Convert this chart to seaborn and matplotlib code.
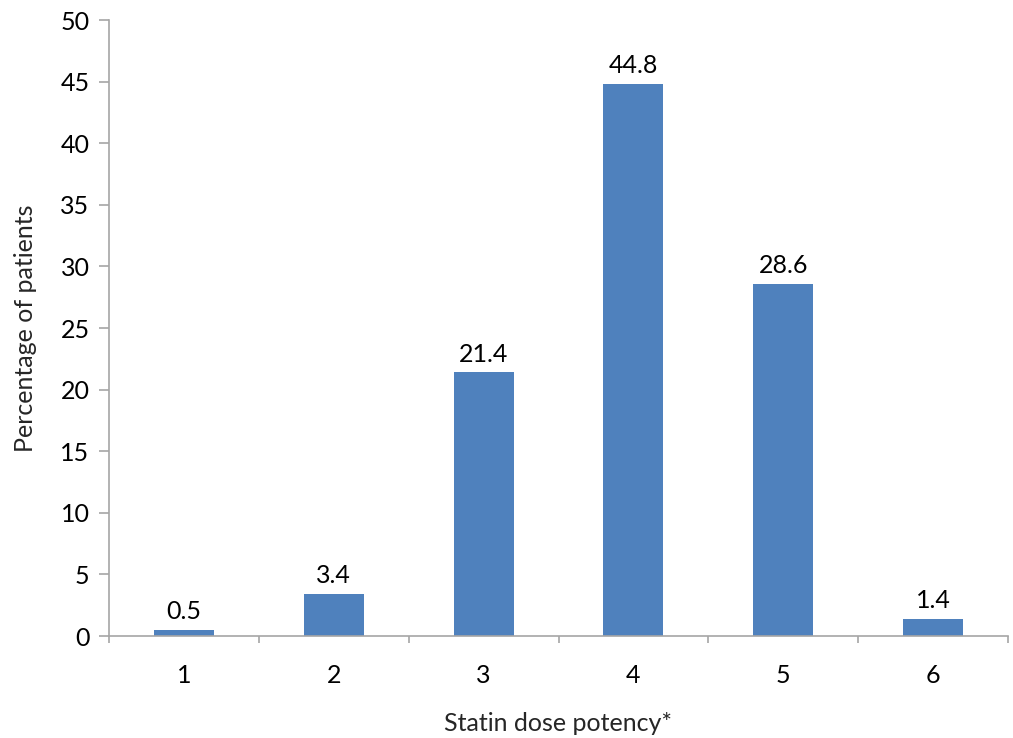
import matplotlib
matplotlib.use("Agg")
import matplotlib.pyplot as plt
import seaborn as sns
import pandas as pd

categories = ["1", "2", "3", "4", "5", "6"]
percentages = [0.5, 3.4, 21.4, 44.8, 28.6, 1.4]
y_ticks = [0, 5, 10, 15, 20, 25, 30, 35, 40, 45, 50]

sns.set_theme(style="white")
plt.rcParams["font.family"] = ["Lato", "DejaVu Sans"]

df = pd.DataFrame({"potency": categories, "pct": percentages})

fig = plt.figure(figsize=(10.13, 7.38), dpi=100)
ax = fig.add_axes([109 / 1013, 1 - 636 / 738, 899 / 1013, 616 / 738])

sns.barplot(data=df, x="potency", y="pct", color="#4F81BD", width=0.4,
            saturation=1, linewidth=0, ax=ax)

fs = 18
for i, v in enumerate(percentages):
    ax.text(i, v + 0.55, f"{v}", ha="center", va="bottom", fontsize=fs,
            color="black")

ax.set_xlim(-0.5, len(categories) - 0.5)
ax.set_ylim(0, 50)
ax.set_yticks(y_ticks)
ax.set_yticklabels([str(t) for t in y_ticks])

axis_col = "#A6A6A6"
for side in ["top", "right"]:
    ax.spines[side].set_visible(False)
for side in ["left", "bottom"]:
    ax.spines[side].set_color(axis_col)
    ax.spines[side].set_linewidth(1.2)

ax.tick_params(axis="y", which="major", left=True, length=7, width=1.2,
               color=axis_col, labelsize=fs, pad=7, labelcolor="black")
ax.tick_params(axis="x", which="major", bottom=False, labelsize=fs,
               pad=14, labelcolor="black")
# category boundary ticks on the x axis
ax.set_xticks([i - 0.5 for i in range(len(categories) + 1)], minor=True)
ax.tick_params(axis="x", which="minor", bottom=True, length=5, width=1.2,
               color=axis_col)

ax.set_xlabel("Statin dose potency*", fontsize=fs, labelpad=18)
ax.set_ylabel("Percentage of patients", fontsize=fs, labelpad=17)

fig.savefig("out.png", dpi=100)
